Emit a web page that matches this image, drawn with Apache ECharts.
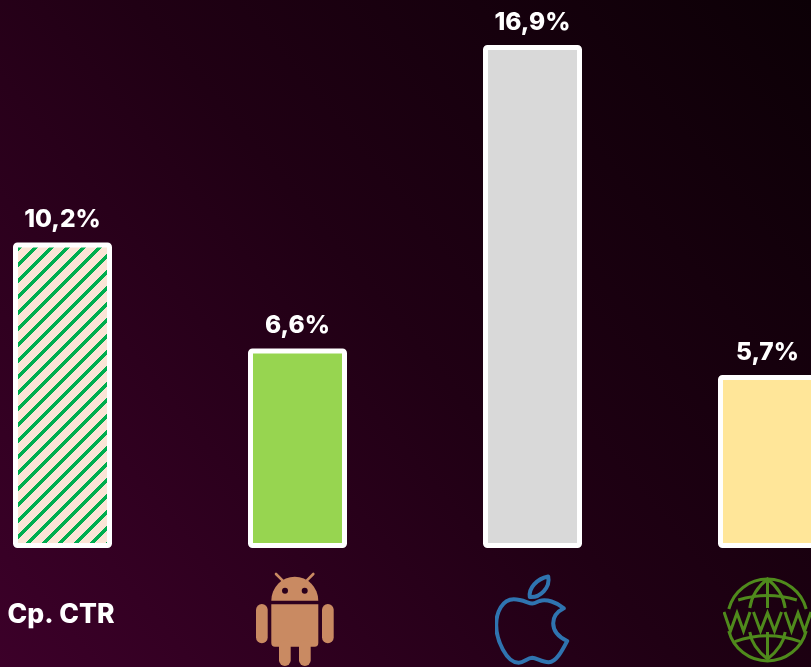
<!DOCTYPE html>
<html><head><meta charset="utf-8">
<style>html,body{margin:0;padding:0;background:#1c0012}#c{width:811px;height:667px}</style>
<script src="https://cdn.jsdelivr.net/npm/echarts@6/dist/echarts.min.js"></script>
</head><body><div id="c"></div>
<script>
const categories = ['Ср. CTR', 'Android', 'iOS', 'Web'];
const values = [10.2, 6.6, 16.9, 5.7];
const barColors = ['pattern', '#97d550', '#d9d9d9', '#ffe699'];

const androidSvg = `<svg xmlns="http://www.w3.org/2000/svg" width="84" height="94" viewBox="0 0 84 94"><g fill="#c98a62"><rect x="0.5" y="32" width="11.700" height="39.300" rx="5.800"/><rect x="66.500" y="32" width="11.700" height="39.300" rx="5.800"/><path d="M15.800 28.700 A23.500 24 0 0 1 62.800 28.700 Z"/><path d="M15.800 32.300 H62.800 V71 a3.700 3.700 0 0 1 -3.700 3.700 H19.500 a3.700 3.700 0 0 1 -3.700 -3.700 Z"/><rect x="23.500" y="68" width="11.700" height="26" rx="5.800"/><rect x="43.500" y="68" width="11.700" height="26" rx="5.800"/></g><g stroke="#c98a62" stroke-width="2.600" stroke-linecap="round"><line x1="27.200" y1="8.700" x2="20.500" y2="2"/><line x1="51.200" y1="8.700" x2="57.800" y2="2"/></g><circle cx="29.500" cy="18.700" r="3" fill="#2a001c"/><circle cx="49.200" cy="18.700" r="3" fill="#2a001c"/></svg>`;
const appleSvg = `<svg xmlns="http://www.w3.org/2000/svg" width="76" height="94" viewBox="0 0 76 94"><g transform="translate(0 2)" fill="none" stroke="#2f74b0" stroke-width="4" stroke-linejoin="round" stroke-linecap="round"><path d="M35.300 23 C34 14 42 5 53.700 2.500 C56 13 46 24 35.300 23 Z"/><path d="M69.300 34.300 C62 28 52 25 45 27 C42 28.300 40 29.500 37.700 29.500 C34 29.500 28 25.300 19.300 25.300 C8 25.300 1.700 38 1.700 51 C1.700 66 12 89 24.300 88.700 C29 88.700 33 84 37.700 83.800 C42 84 48 88.500 54.300 88.300 C62 88 68 76 72.700 67 C64 63 58.700 57 58.700 49.300 C58.700 43 63 37.500 69.300 34.300 Z"/></g></svg>`;
const webSvg = `<svg xmlns="http://www.w3.org/2000/svg" width="90" height="94" viewBox="0 0 90 94"><g transform="translate(0 6)" fill="none" stroke="#4f8a1c" stroke-width="3"><path d="M6.300 31 A40 40 0 0 1 83.700 31"/><path d="M6.300 53 A40 40 0 0 0 83.700 53"/><line x1="45" y1="1" x2="45" y2="30"/><line x1="45" y1="54" x2="45" y2="81"/><path d="M27.300 30 C29 18 36 8 45 1 C54 8 61 18 62.700 30"/><path d="M27.300 54 C29 66 36 74 45 81 C54 74 61 66 62.700 54"/><path d="M15.700 22 Q45 13 74.300 22"/><path d="M12.300 63.700 Q45 52 77.700 63.700"/><path d="M1.500 34 L8 53 L14.500 35 L21 53 L27.500 34"/><path d="M31 34 L38 53 L45 35 L52 53 L59 34"/><path d="M62.500 34 L69 53 L75.500 35 L82 53 L88.500 34"/></g></svg>`;
const toUri = s => 'data:image/svg+xml;charset=utf-8,' + encodeURIComponent(s);

function hatchTile() {
  const n = 16, c = document.createElement('canvas');
  c.width = n; c.height = n;
  const g = c.getContext('2d');
  for (let y = 0; y < n; y++) for (let x = 0; x < n; x++) {
    const d = (x + y + 8) % n;
    g.fillStyle = d < 5 ? '#00ae4f' : '#fbe5d6';
    g.fillRect(x, y, 1, 1);
  }
  return c;
}
const fills = barColors.map(k => k === 'pattern' ? { image: hatchTile(), repeat: 'repeat' } : k);
const iconKeys = ['', 'android', 'apple', 'web'];

const chart = echarts.init(document.getElementById('c'), null, { renderer: 'canvas' });
chart.setOption({
  animation: false,
  backgroundColor: { type: 'linear', x: 0, y: 1, x2: 1, y2: 0, colorStops: [
    { offset: 0, color: '#3c0029' }, { offset: 0.5, color: '#200014' }, { offset: 1, color: '#0c0006' } ] },
  grid: { left: -55, right: -74, top: 0, bottom: 119, outerBoundsMode: 'none', containLabel: false },
  xAxis: {
    type: 'category', data: categories,
    axisLine: { show: false, onZero: false }, axisTick: { show: false }, splitLine: { show: false },
    axisLabel: {
      interval: 0, margin: 24, hideOverlap: false,
      formatter: (v, i) => iconKeys[i] ? `{${iconKeys[i]}|}` : `{txt|${v}}`,
      rich: {
        txt: { color: '#fff', fontFamily: 'Inter', fontWeight: 800, fontSize: 26.5, lineHeight: 86, height: 86, padding: [0, 3, 0, 0] },
        android: { width: 84, height: 94, backgroundColor: { image: toUri(androidSvg) } },
        apple: { width: 76, height: 94, backgroundColor: { image: toUri(appleSvg) } },
        web: { width: 90, height: 94, backgroundColor: { image: toUri(webSvg) } }
      }
    }
  },
  yAxis: { type: 'value', show: false, min: -0.1714, max: 18.428, startValue: -0.1714, splitLine: { show: false } },
  series: [{
    type: 'bar', barWidth: 99,
    data: values.map((v, i) => ({ value: v, itemStyle: { color: fills[i] } })),
    itemStyle: { borderColor: '#fff', borderWidth: 5, borderRadius: 2 },
    label: {
      show: true, position: 'top', distance: 10, color: '#fff',
      fontFamily: 'Inter', fontWeight: 800, fontSize: 24.5,
      formatter: p => String(p.value).replace('.', ',') + '%'
    }
  }]
});
setTimeout(() => chart.resize(), 50);
</script></body></html>
